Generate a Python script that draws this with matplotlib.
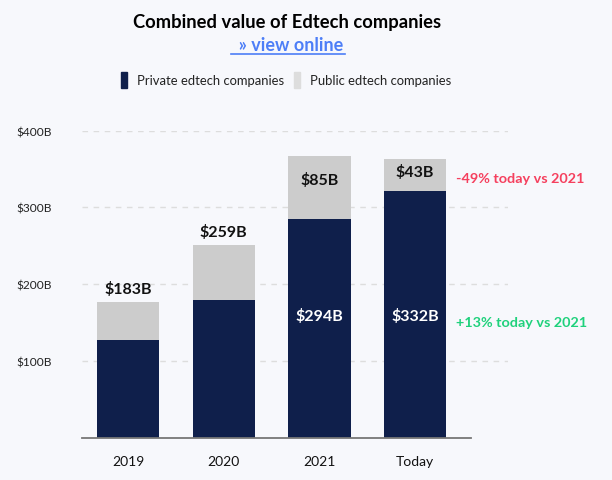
import matplotlib.pyplot as plt

plt.rcParams['font.family'] = ['Lato', 'DejaVu Sans']

# values (bar heights, $B)
years = ["2019", "2020", "2021", "Today"]
private_vals = [128, 179, 285, 321]
public_vals = [49, 72, 82, 42]

total_labels = ["$183B", "$259B", None, None]
private_labels = [None, None, "$294B", "$332B"]
public_labels = [None, None, "$85B", "$43B"]

ytick_vals = [100, 200, 300, 400]
ytick_labels = ["$100B", "$200B", "$300B", "$400B"]

NAVY = "#0f1f4b"
GREY = "#cccccc"
BG = "#f7f8fc"

fig = plt.figure(figsize=(6.12, 4.81), dpi=100)
fig.patch.set_facecolor(BG)
ax = fig.add_axes([0.134, 0.0873, 0.696, 0.639])
ax.set_facecolor(BG)

x = list(range(len(years)))
ax.bar(x, private_vals, width=0.65, color=NAVY, zorder=3)
ax.bar(x, public_vals, width=0.65, bottom=private_vals, color=GREY, zorder=3)

for i in x:
    tot = private_vals[i] + public_vals[i]
    if total_labels[i]:
        ax.text(i, tot + 8, total_labels[i], ha="center", va="bottom",
                fontsize=11.5, fontweight="bold", color="#111111")
    if private_labels[i]:
        ax.text(i, 160, private_labels[i], ha="center", va="center",
                fontsize=11.5, fontweight="bold", color="white", zorder=4)
    if public_labels[i]:
        ax.text(i, private_vals[i] + public_vals[i] * 0.62, public_labels[i],
                ha="center", va="center", fontsize=11.5, fontweight="bold",
                color="#111111", zorder=4)

ax.text(3.43, 339, "-49% today vs 2021", ha="left", va="center",
        fontsize=10.4, fontweight="bold", color="#f5405e")
ax.text(3.43, 151, "+13% today vs 2021", ha="left", va="center",
        fontsize=10.4, fontweight="bold", color="#1fd17c")

ax.set_xlim(-0.48, 3.97)
ax.set_ylim(0, 400)
ax.set_xticks(x)
ax.set_xticklabels(years, fontsize=10, color="#111111")
ax.set_yticks(ytick_vals)
ax.set_yticklabels(ytick_labels, fontsize=8.6, color="#222222")
ax.tick_params(axis="both", length=0)
ax.tick_params(axis="y", pad=21.5)
ax.tick_params(axis="x", pad=12)

ax.yaxis.grid(True, linestyle=(0, (4, 4)), color="#dddddd", linewidth=1, zorder=0)
for s in ["top", "right", "left"]:
    ax.spines[s].set_visible(False)
ax.spines["bottom"].set_bounds(-0.48, 3.58)
ax.spines["bottom"].set_color("#777777")
ax.spines["bottom"].set_linewidth(1.3)
ax.spines["bottom"].set_zorder(4)

fig.text(0.469, 0.953, "Combined value of Edtech companies", ha="center", va="center",
         fontsize=13.2, fontweight="bold", color="black")
link = fig.text(0.469, 0.906, "  » view online", ha="center", va="center",
                fontsize=13, fontweight="bold", color="#4d7ef7")
fig.add_artist(plt.Line2D([0.378, 0.563], [0.886, 0.886], color="#4d7ef7", linewidth=1.2))

# legend
fig.patches.append(plt.Rectangle((0.197, 0.815), 0.010, 0.034, transform=fig.transFigure,
                                 color=NAVY, figure=fig))
fig.text(0.224, 0.832, "Private edtech companies", ha="left", va="center",
         fontsize=9.4, color="#222222")
fig.patches.append(plt.Rectangle((0.481, 0.815), 0.010, 0.034, transform=fig.transFigure,
                                 color="#dddddd", figure=fig))
fig.text(0.506, 0.832, "Public edtech companies", ha="left", va="center",
         fontsize=9.4, color="#222222")

fig.savefig("out.png", dpi=100, facecolor=BG)
